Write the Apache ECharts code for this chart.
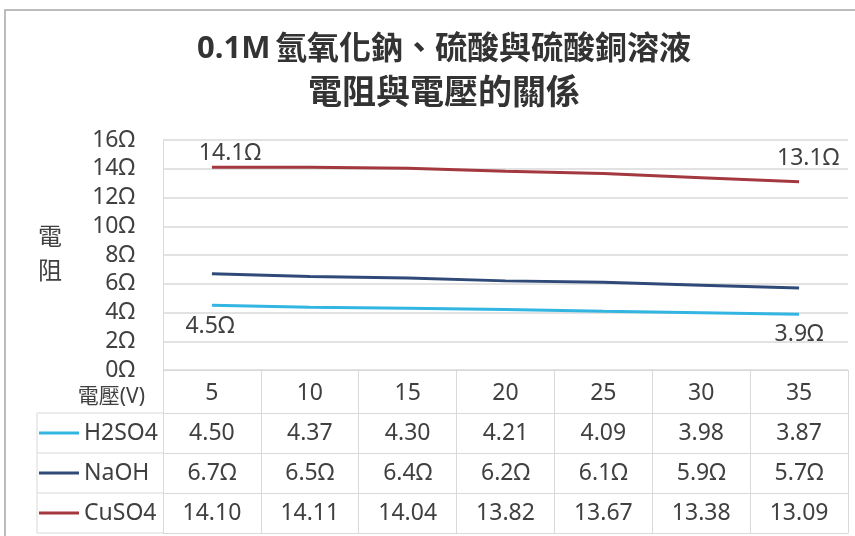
<!DOCTYPE html>
<html>
<head>
<meta charset="utf-8">
<script src="https://cdn.jsdelivr.net/npm/echarts@6/dist/echarts.min.js"></script>
<style>html,body{margin:0;padding:0;background:#fff;}#c{width:855px;height:536px;}</style>
</head>
<body>
<div id="c"></div>
<script>
// ---- data ----
const categories = ['5', '10', '15', '20', '25', '30', '35'];
const seriesNames = ['H2SO4', 'NaOH', 'CuSO4'];
const h2so4 = [4.50, 4.37, 4.30, 4.21, 4.09, 3.98, 3.87];
const naoh = [6.7, 6.5, 6.4, 6.2, 6.1, 5.9, 5.7];
const cuso4 = [14.10, 14.11, 14.04, 13.82, 13.67, 13.38, 13.09];
const yMin = 0, yMax = 16, yStep = 2;
const titlePrefix = '0.1M';
const titleLine1 = '氫氧化鈉、硫酸與硫酸銅溶液';
const titleLine2 = '電阻與電壓的關係';
const yName = '電阻';
const xName = '電壓(V)';

// ---- style / layout ----
const FONT = "'Noto Sans','Noto Sans CJK TC',sans-serif";
const TXT = '#404040';
const GRIDC = '#d9d9d9';
const colors = ['#33b5e2', '#2f4a78', '#a3393f'];
const GRID = { left: 163, right: 7, top: 140, bottom: 166 };
const H = 536;
const HEADER_H = 43, ROW_H = 40, LEG_LEFT = 37;
const axisY = H - GRID.bottom;

const rows = [h2so4, naoh, cuso4];
const fmts = [v => v.toFixed(2), v => v.toFixed(1) + 'Ω', v => v.toFixed(2)];

const chart = echarts.init(document.getElementById('c'), null, { renderer: 'canvas' });

function baseX(extra) {
  return Object.assign({
    type: 'category', data: categories, gridIndex: 0, position: 'bottom', boundaryGap: true,
    axisLine: { show: true, lineStyle: { color: GRIDC, width: 1 } },
    axisTick: { show: false }, splitLine: { show: false }
  }, extra);
}

const xAxes = [
  baseX({
    name: xName, nameLocation: 'start', nameGap: 18,
    nameTextStyle: { fontSize: 21, color: TXT, fontFamily: FONT, verticalAlign: 'top', padding: [17, 0, 0, 0] },
    axisTick: { show: true, interval: 0, length: HEADER_H + 3 * ROW_H, lineStyle: { color: GRIDC } },
    axisLabel: { interval: 0, fontSize: 23, color: TXT, fontFamily: FONT, margin: 23, verticalAlign: 'middle' }
  })
];
rows.forEach((r, i) => {
  xAxes.push(baseX({
    offset: HEADER_H + i * ROW_H,
    axisLabel: {
      interval: 0, fontSize: 23, color: TXT, fontFamily: FONT, margin: ROW_H / 2, verticalAlign: 'middle',
      formatter: (v, idx) => fmts[i](r[idx])
    }
  }));
});
xAxes.push(baseX({ offset: HEADER_H + 3 * ROW_H, axisLabel: { show: false } }));

const labelCfg = [
  { pos: 'bottom', first: [-2, 5], last: [0, 4] },
  null,
  { pos: 'top', first: [18, 3], last: [9, -7] }
];

const series = rows.map((r, i) => ({
  name: seriesNames[i], type: 'line', xAxisIndex: 0, yAxisIndex: 0,
  symbol: 'circle', symbolSize: 0.1, showSymbol: true, smooth: false,
  lineStyle: { width: 3, color: colors[i] }, itemStyle: { color: colors[i] },
  data: r.map((v, k) => {
    const cfg = labelCfg[i];
    if (cfg && (k === 0 || k === r.length - 1)) {
      return {
        value: v,
        label: {
          show: true, position: cfg.pos, offset: k === 0 ? cfg.first : cfg.last,
          formatter: p => p.value.toFixed(1) + 'Ω',
          fontSize: 23, color: TXT, fontFamily: FONT
        }
      };
    }
    return v;
  })
}));

const legends = seriesNames.map((n, i) => ({
  data: [{ name: n, icon: 'rect' }], orient: 'horizontal', left: LEG_LEFT + 2, top: axisY + HEADER_H + i * ROW_H + 8,
  padding: 0, itemWidth: 40, itemHeight: 3,
  textStyle: { fontSize: 23, color: TXT, fontFamily: FONT, lineHeight: 24 }
}));

const graphic = [
  { type: 'rect', silent: true, shape: { x: 5, y: 10, width: 900, height: 600 }, style: { fill: 'none', stroke: '#a6a6a6', lineWidth: 1.5 } },
  { type: 'line', silent: true, shape: { x1: LEG_LEFT, y1: axisY + HEADER_H, x2: LEG_LEFT, y2: axisY + HEADER_H + 3 * ROW_H }, style: { stroke: GRIDC, lineWidth: 1 } }
];
for (let i = 0; i <= 3; i++) {
  const y = axisY + HEADER_H + i * ROW_H;
  graphic.push({ type: 'line', silent: true, shape: { x1: LEG_LEFT, y1: y, x2: GRID.left, y2: y }, style: { stroke: GRIDC, lineWidth: 1 } });
}

chart.setOption({
  animation: false,
  backgroundColor: '#fff',
  title: {
    text: '{p|' + titlePrefix + '} {a|' + titleLine1 + '}\n{b|' + titleLine2 + '}',
    left: 439, top: 22, textAlign: 'center',
    textStyle: {
      fontFamily: FONT, color: '#333', lineHeight: 45,
      rich: {
        p: { fontSize: 31, fontWeight: 'bold', fontFamily: FONT, color: '#333', lineHeight: 45 },
        a: { fontSize: 32, fontWeight: 'bold', fontFamily: FONT, color: '#333', lineHeight: 45 },
        b: { fontSize: 34, fontWeight: 'bold', fontFamily: FONT, color: '#333', lineHeight: 45 }
      }
    }
  },
  legend: legends,
  grid: { left: GRID.left, right: GRID.right, top: GRID.top, bottom: GRID.bottom, containLabel: false },
  xAxis: xAxes,
  yAxis: {
    type: 'value', min: yMin, max: yMax, interval: yStep,
    name: yName.split('').join('\n'), nameLocation: 'middle', nameRotate: 0, nameGap: 101,
    nameTextStyle: { fontSize: 24, color: TXT, fontFamily: FONT, lineHeight: 34, padding: [10, 0, 0, 0] },
    axisLine: { show: true, lineStyle: { color: GRIDC } },
    axisTick: { show: false },
    splitLine: { show: true, lineStyle: { color: GRIDC, width: 1.5 } },
    axisLabel: { formatter: '{value}Ω', fontSize: 23, color: TXT, fontFamily: FONT, margin: 28 }
  },
  graphic: graphic,
  series: series
});
</script>
</body>
</html>
